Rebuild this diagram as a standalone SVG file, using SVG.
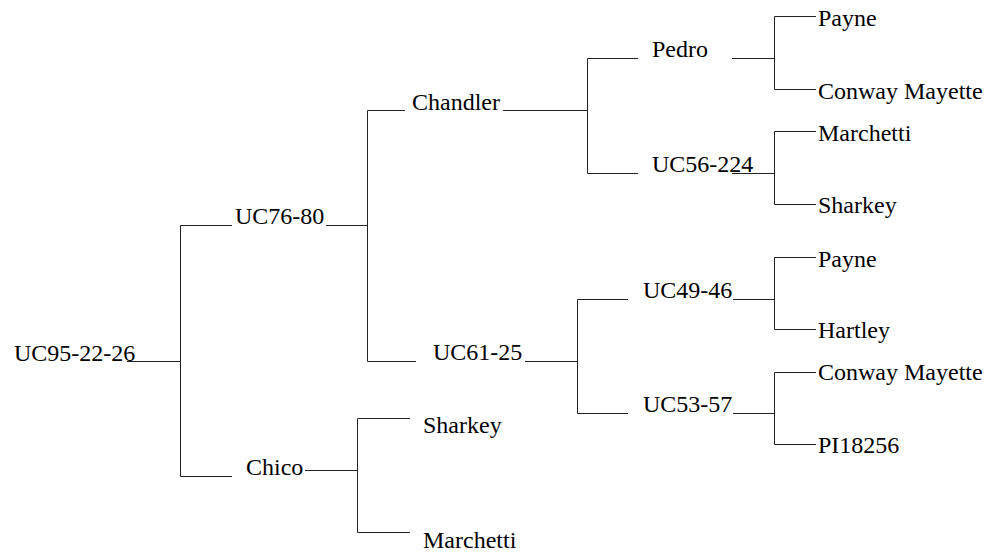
<svg xmlns="http://www.w3.org/2000/svg" width="999" height="555" viewBox="0 0 999 555">
<style>
.c{fill:none;stroke:#222;stroke-width:1}
.t text{font-size:24px;fill:#000}
</style>
<rect width="999" height="555" fill="#fff"/>
<g id="connectors" class="c">
<path d="M127,361.5H180.5M180.5,225.5V476.5M180.5,225.5H232M180.5,476.5H232"/>
<path d="M326,225.5H367.5M367.5,110.5V361.5M367.5,110.5H405M367.5,361.5H416"/>
<path d="M503,110.5H587.5M587.5,58.5V173.5M587.5,58.5H638M587.5,173.5H638"/>
<path d="M732,58.5H774.5M774.5,16.5V89.5M774.5,16.5H816M774.5,89.5H816"/>
<path d="M732,173.5H774.5M774.5,131.5V204.5M774.5,131.5H816M774.5,204.5H816"/>
<path d="M525,361.5H577.5M577.5,299.5V413.5M577.5,299.5H628M577.5,413.5H628"/>
<path d="M733,299.5H774.5M774.5,257.5V329.5M774.5,257.5H816M774.5,329.5H816"/>
<path d="M733,413.5H774.5M774.5,372.5V444.5M774.5,372.5H816M774.5,444.5H816"/>
<path d="M305,470.5H357.5M357.5,418.5V532.5M357.5,418.5H410M357.5,532.5H410"/>
</g>
<g class="t" font-family="'Liberation Serif', 'Times New Roman', 'DejaVu Serif', serif">
<g id="n-uc95"><text x="14" y="361">UC95-22-26</text></g>
<g id="n-uc76"><text x="235" y="224">UC76-80</text></g>
<g id="n-chico"><text x="246" y="475">Chico</text></g>
<g id="n-chandler"><text x="412" y="110">Chandler</text></g>
<g id="n-uc61"><text x="433" y="360">UC61-25</text></g>
<g id="n-sharkey1"><text x="423" y="433">Sharkey</text></g>
<g id="n-marchetti1"><text x="423" y="548">Marchetti</text></g>
<g id="n-pedro"><text x="652" y="57">Pedro</text></g>
<g id="n-uc56"><text x="652" y="172">UC56-224</text></g>
<g id="n-uc49"><text x="643" y="298">UC49-46</text></g>
<g id="n-uc53"><text x="643" y="412">UC53-57</text></g>
<g id="n-payne1"><text x="818" y="26">Payne</text></g>
<g id="n-conway1"><text x="818" y="99">Conway Mayette</text></g>
<g id="n-marchetti2"><text x="818" y="141">Marchetti</text></g>
<g id="n-sharkey2"><text x="818" y="213">Sharkey</text></g>
<g id="n-payne2"><text x="818" y="267">Payne</text></g>
<g id="n-hartley"><text x="818" y="338">Hartley</text></g>
<g id="n-conway2"><text x="818" y="380">Conway Mayette</text></g>
<g id="n-pi"><text x="818" y="453">PI18256</text></g>
</g>
</svg>
